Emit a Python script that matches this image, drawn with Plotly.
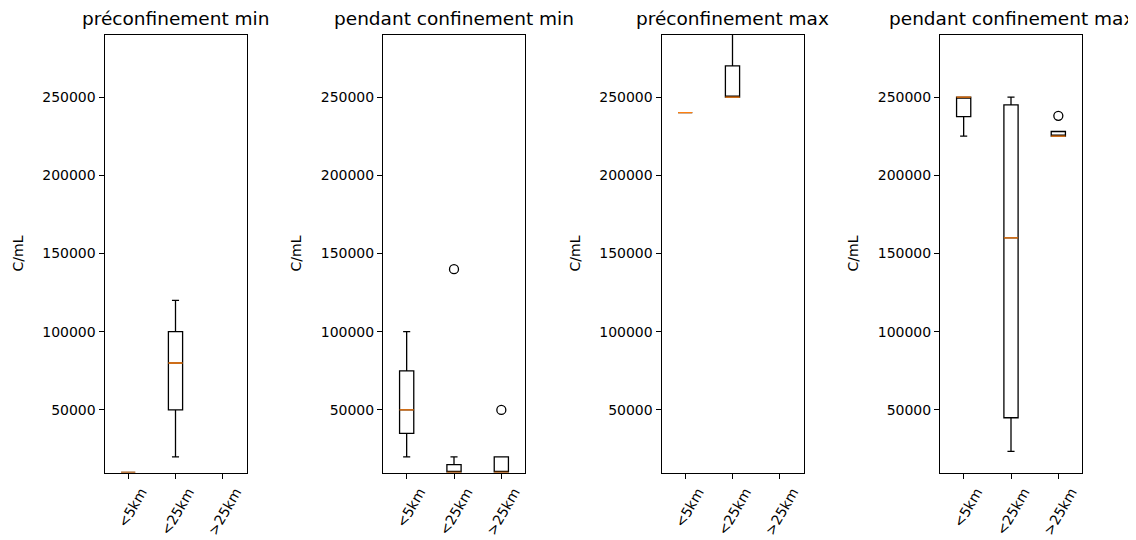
import plotly.graph_objects as go

categories = ["<5km", "<25km", ">25km"]
positions = [1, 2, 3]
titles = ["préconfinement min", "pendant confinement min",
          "préconfinement max", "pendant confinement max"]
y_ticks = [50000, 100000, 150000, 200000, 250000]

# Box statistics per panel (lower whisker, Q1, median, Q3, upper whisker); None = no data
pre_min_low = [10000, 20000, None]
pre_min_q1 = [10000, 50000, None]
pre_min_med = [10000, 80000, None]
pre_min_q3 = [10000, 100000, None]
pre_min_high = [10000, 120000, None]
pre_min_out = [[], [], []]

pend_min_low = [20000, 10000, 10000]
pend_min_q1 = [35000, 10000, 10000]
pend_min_med = [50000, 10000, 10000]
pend_min_q3 = [75000, 15000, 20000]
pend_min_high = [100000, 20000, 20000]
pend_min_out = [[], [140000], [50000]]

pre_max_low = [240000, 250000, None]
pre_max_q1 = [240000, 250000, None]
pre_max_med = [240000, 250000, None]
pre_max_q3 = [240000, 270000, None]
pre_max_high = [240000, 300000, None]
pre_max_out = [[], [], []]

pend_max_low = [225000, 23500, 225000]
pend_max_q1 = [237500, 45000, 225000]
pend_max_med = [250000, 160000, 225000]
pend_max_q3 = [250000, 245000, 228000]
pend_max_high = [250000, 250000, 228000]
pend_max_out = [[], [], [238000]]

panels = [
    (pre_min_low, pre_min_q1, pre_min_med, pre_min_q3, pre_min_high, pre_min_out),
    (pend_min_low, pend_min_q1, pend_min_med, pend_min_q3, pend_min_high, pend_min_out),
    (pre_max_low, pre_max_q1, pre_max_med, pre_max_q3, pre_max_high, pre_max_out),
    (pend_max_low, pend_max_q1, pend_max_med, pend_max_q3, pend_max_high, pend_max_out),
]

# page body has an 8px margin; figure sized to fit the window
OFF = 8
W, H = 1136 - OFF, 540 - OFF
BOX_W = 0.3
LW = 1.3
FONT = "DejaVu Sans"
ax_left = [104.5, 383, 661.5, 940]   # screen px
ax_width = 142
ax_top, ax_bottom = 34.5, 472.5       # screen px


def fx(s):
    return (s - OFF) / W


def fy(s):
    return 1 - (s - OFF) / H


y_dom = [fy(ax_bottom), fy(ax_top)]

fig = go.Figure()
layout = dict(
    width=W, height=H, paper_bgcolor="white", plot_bgcolor="white",
    margin=dict(l=0, r=0, t=0, b=0, autoexpand=False), showlegend=False,
    font=dict(family=FONT, size=14, color="black"),
)
annotations = []

for i, (low, q1, med, q3, high, out) in enumerate(panels):
    n = i + 1
    xa = "x" if n == 1 else f"x{n}"
    ya = "y" if n == 1 else f"y{n}"
    idx = [k for k in range(len(categories)) if med[k] is not None]
    xs = [positions[k] for k in idx]
    fig.add_trace(go.Box(
        x=xs, q1=[q1[k] for k in idx], median=[med[k] for k in idx],
        q3=[q3[k] for k in idx], lowerfence=[low[k] for k in idx],
        upperfence=[high[k] for k in idx],
        width=BOX_W, whiskerwidth=0.5, boxpoints=False,
        line=dict(color="black", width=LW), fillcolor="white",
        xaxis=xa, yaxis=ya, hoverinfo="skip",
    ))
    mx, my = [], []
    for k in idx:
        mx += [positions[k] - BOX_W / 2, positions[k] + BOX_W / 2, None]
        my += [med[k], med[k], None]
    fig.add_trace(go.Scatter(x=mx, y=my, mode="lines",
                             line=dict(color="#ff7f0e", width=LW),
                             xaxis=xa, yaxis=ya, hoverinfo="skip"))
    ox, oy = [], []
    for k in range(len(categories)):
        for v in out[k]:
            ox.append(positions[k])
            oy.append(v)
    if ox:
        fig.add_trace(go.Scatter(x=ox, y=oy, mode="markers",
                                 marker=dict(symbol="circle-open", size=9, color="black",
                                             line=dict(width=LW, color="black")),
                                 xaxis=xa, yaxis=ya, hoverinfo="skip"))
    x0 = fx(ax_left[i])
    x1 = fx(ax_left[i] + ax_width)
    common = dict(showline=True, mirror=True, linecolor="black", linewidth=1,
                  ticks="outside", ticklen=5, tickwidth=1, tickcolor="black",
                  showgrid=False, zeroline=False, automargin=False)
    layout["xaxis" if n == 1 else f"xaxis{n}"] = dict(
        domain=[x0, x1], range=[0.5, 3.5], tickvals=positions, ticktext=categories,
        tickangle=-60, ticklabelshift=13, anchor=ya, **common)
    layout["yaxis" if n == 1 else f"yaxis{n}"] = dict(
        domain=y_dom, range=[10000, 290000], tickvals=y_ticks, tickformat="d",
        title=dict(text="C/mL", font=dict(size=14)), anchor=xa, **common)
    annotations.append(dict(text=titles[i], x=(x0 + x1) / 2, y=y_dom[1],
                            xref="paper", yref="paper", xanchor="center", yanchor="bottom",
                            yshift=3, showarrow=False, font=dict(size=18.5)))

layout["annotations"] = annotations
fig.update_layout(**layout)
fig.write_html("out.html")
